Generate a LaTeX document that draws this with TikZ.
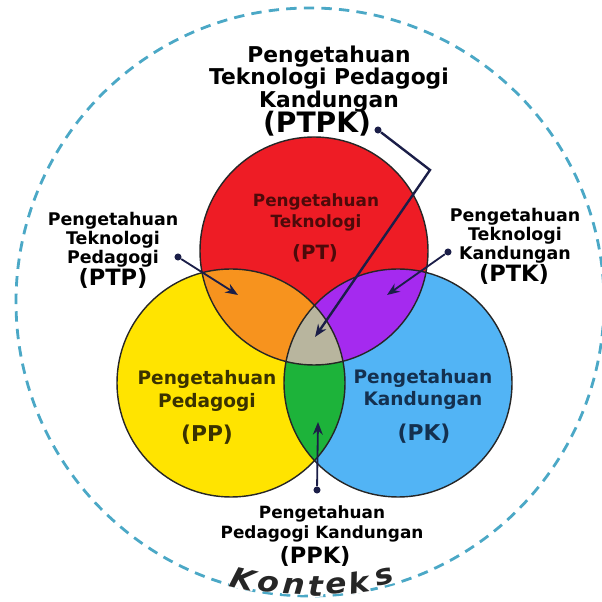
\documentclass[tikz,border=0pt]{standalone}
\usepackage{fontspec}
\setmainfont{DejaVu Sans}
\usetikzlibrary{arrows.meta, positioning}

\definecolor{ptred}{HTML}{EE1C25}
\definecolor{ppyellow}{HTML}{FFE400}
\definecolor{pkblue}{HTML}{52B4F5}
\definecolor{ptporange}{HTML}{F7931E}
\definecolor{ptkpurple}{HTML}{A52AEF}
\definecolor{ppkgreen}{HTML}{1DB33A}
\definecolor{ptpkgray}{HTML}{B8B59E}
\definecolor{konteksblue}{HTML}{4BA8C6}
\definecolor{arrowink}{HTML}{1B1E48}
\definecolor{ptink}{HTML}{4D0A0A}
\definecolor{ppink}{HTML}{3A3200}
\definecolor{pkink}{HTML}{14304F}

\newcommand{\krad}{114}

\tikzset{
	ring/.style={draw=black!85, line width=1pt},
	kontring/.style={draw=konteksblue, line width=2pt, dash pattern=on 0.26cm off 0.18cm},
	lbl/.style={align=center, inner sep=0pt, font=\bfseries\fontsize{12.4}{13.5}\selectfont},
	abbr/.style={inner sep=0pt, font=\bfseries\fontsize{16}{16}\selectfont},
	dot/.style={circle, fill=arrowink, inner sep=0pt, minimum size=5pt},
	conn/.style={draw=arrowink, line width=1.3pt, -{Stealth[length=9pt, width=7pt]}},
	kletter/.style={fill=white, text=black!85, inner sep=0pt, xscale=1.12, font=\bfseries\itshape\fontsize{20}{20}\selectfont}
}

\begin{document}
\begin{tikzpicture}[x=0.025cm, y=0.025cm]
	\useasboundingbox (0,0) rectangle (602,602);
	% pusat lingkaran
	\coordinate (cOut) at (310,300);
	\coordinate (cPT) at (314,351);
	\coordinate (cPP) at (231,219);
	\coordinate (cPK) at (398,219);

	% konteks
	\draw[kontring] (cOut) circle[radius=294];

	% tiga pengetahuan
	\fill[ppyellow] (cPP) circle[radius=\krad];
	\fill[pkblue] (cPK) circle[radius=\krad];
	\fill[ptred] (cPT) circle[radius=\krad];
	\begin{scope}
		\clip (cPP) circle[radius=\krad];
		\fill[ppkgreen] (cPK) circle[radius=\krad];
	\end{scope}
	\begin{scope}
		\clip (cPT) circle[radius=\krad];
		\fill[ptporange] (cPP) circle[radius=\krad];
		\fill[ptkpurple] (cPK) circle[radius=\krad];
		\clip (cPP) circle[radius=\krad];
		\fill[ptpkgray] (cPK) circle[radius=\krad];
	\end{scope}
	\foreach \c in {cPT,cPP,cPK}
		\draw[ring] (\c) circle[radius=\krad];

	% label dalam lingkaran
	\node[lbl, text=ptink, font=\bfseries\fontsize{12}{15}\selectfont] (pt) at (316,389.5) {Pengetahuan\\Teknologi};
	\node[abbr, text=ptink, font=\bfseries\fontsize{14}{14}\selectfont] (pt-abbr) at (315,349) {(PT)};
	\node[lbl, text=ppink, font=\bfseries\fontsize{13.2}{17}\selectfont] (pp) at (207,211) {Pengetahuan\\Pedagogi};
	\node[abbr, text=ppink, font=\bfseries\fontsize{15.5}{15.5}\selectfont] (pp-abbr) at (207,167) {(PP)};
	\node[lbl, text=pkink, font=\bfseries\fontsize{13.2}{15}\selectfont] (pk) at (423,212.5) {Pengetahuan\\Kandungan};
	\node[abbr, text=pkink, font=\bfseries\fontsize{15.5}{15.5}\selectfont] (pk-abbr) at (424,168) {(PK)};

	% label luar
	\node[lbl, font=\bfseries\fontsize{15.5}{14.5}\selectfont] (ptpk) at (329,523) {Pengetahuan\\Teknologi Pedagogi\\Kandungan};
	\node[abbr, font=\bfseries\fontsize{20}{20}\selectfont] (ptpk-abbr) at (317,478) {(PTPK)};
	\node[lbl] (ptp) at (113,362) {Pengetahuan\\Teknologi\\Pedagogi};
	\node[abbr] (ptp-abbr) at (113,324) {(PTP)};
	\node[lbl] (ptk) at (515,366) {Pengetahuan\\Teknologi\\Kandungan};
	\node[abbr] (ptk-abbr) at (514,328) {(PTK)};
	\node[lbl, font=\bfseries\fontsize{12}{14.2}\selectfont] (ppk) at (322,78) {Pengetahuan\\Pedagogi Kandungan};
	\node[abbr] (ppk-abbr) at (315,46) {(PPK)};

	% panah
	\node[dot] (ptpk-dot) at (378,472) {};
	\coordinate (ptpk-bend) at (430,432);
	\coordinate (ptpk-tip) at (315,265);
	\draw[conn, line width=1.7pt] (ptpk-dot) -- (ptpk-bend) -- (ptpk-tip);
	\node[dot] (ptp-dot) at (178,345) {};
	\coordinate (ptp-tip) at (238,307);
	\draw[conn] (ptp-dot) -- (ptp-tip);
	\node[dot] (ptk-dot) at (448,350) {};
	\coordinate (ptk-tip) at (387,307);
	\draw[conn] (ptk-dot) -- (ptk-tip);
	\node[dot] (ppk-dot) at (317,112) {};
	\coordinate (ppk-tip) at (318,180);
	\draw[conn] (ppk-dot) -- (ppk-tip);

	% tulisan konteks
	\foreach \ch/\off [count=\i] in {K/-13.6, o/-8.4, n/-3.3, t/1.1, e/5.4, k/9.8, s/15.1}
		\node[kletter, rotate=\off] (kon\i) at ([shift={(270+\off:285)}]cOut) {\ch};
\end{tikzpicture}
\end{document}
